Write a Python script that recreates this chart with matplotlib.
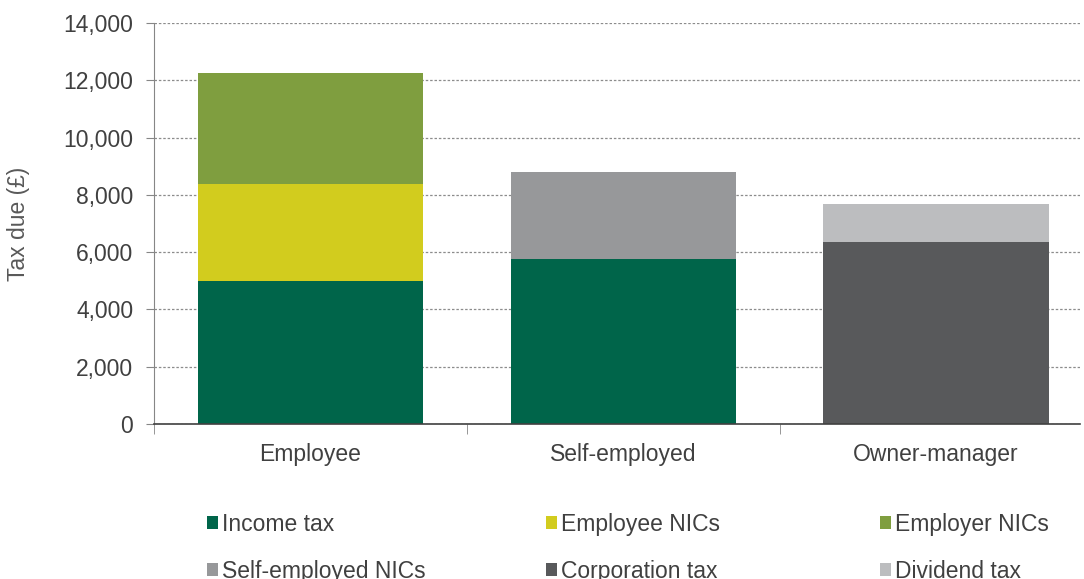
import matplotlib
matplotlib.use("Agg")
import matplotlib.pyplot as plt
from matplotlib.patches import Patch

plt.rcParams['font.family'] = ['Liberation Sans', 'DejaVu Sans']

categories = ["Employee", "Self-employed", "Owner-manager"]
components = ["Income tax", "Employee NICs", "Employer NICs",
              "Self-employed NICs", "Corporation tax", "Dividend tax"]
income_tax = [5000, 5760, 0]
employee_nics = [3380, 0, 0]
employer_nics = [3870, 0, 0]
self_employed_nics = [0, 3040, 0]
corporation_tax = [0, 0, 6350]
dividend_tax = [0, 0, 1330]
colors = ["#00654A", "#D2CC1E", "#7F9E3F", "#97989A", "#58595B", "#BCBDBF"]

series = [income_tax, employee_nics, employer_nics,
          self_employed_nics, corporation_tax, dividend_tax]

fig = plt.figure(figsize=(10.84, 5.79), dpi=100)
ax = fig.add_axes([154 / 1084, 1 - 424 / 579, (1080 - 154) / 1084, (424 - 23) / 579])

x = list(range(len(categories)))
bottom = [0] * len(categories)
for vals, col, name in zip(series, colors, components):
    ax.bar(x, vals, width=0.72, bottom=bottom, color=col, label=name, zorder=2)
    bottom = [b + v for b, v in zip(bottom, vals)]

ax.set_xlim(-0.5, 2.46)
ax.set_ylim(0, 14000)
ax.set_yticks(range(0, 14001, 2000))
ax.yaxis.set_major_formatter(matplotlib.ticker.FuncFormatter(lambda v, p: f"{int(v):,}"))
ax.set_xticks(x)
ax.set_xticklabels(categories)
ax.set_xticks([-0.5, 0.5, 1.5], minor=True)
ax.tick_params(axis='x', which='major', length=0, pad=14, labelsize=16.5, labelcolor='#404040')
ax.tick_params(axis='x', which='minor', length=7, color='#868686', direction='out')
ax.tick_params(axis='y', length=6, color='#868686', labelsize=16.5, labelcolor='#404040', pad=9)
ax.grid(axis='y', linestyle=(0, (2, 1.5)), color='#8C8C8C', linewidth=0.9, zorder=0)
for s in ['top', 'right']:
    ax.spines[s].set_visible(False)
ax.spines['left'].set_color('#868686')
ax.spines['bottom'].set_color('#404040')
ax.spines['bottom'].set_linewidth(1.2)
ax.set_ylabel("Tax due (£)", fontsize=16.5, color='#595959', labelpad=24)

# legend: three columns of two entries, row order as in source
handles = [Patch(facecolor=c) for c in colors]
col_x = [207 / 1084, 546 / 1084, 880 / 1084]
for i, cx in enumerate(col_x):
    idx = [i, i + 3]
    leg = fig.legend([handles[j] for j in idx], [components[j] for j in idx],
                     loc='upper left', bbox_to_anchor=(cx, 1 - 513 / 579),
                     frameon=False, borderpad=0, borderaxespad=0,
                     handlelength=0.5, handleheight=0.5,
                     handletextpad=0.15, labelspacing=1.05,
                     prop={'size': 16.5})
    for t in leg.get_texts():
        t.set_color('#404040')

fig.savefig("out.png", dpi=100)
